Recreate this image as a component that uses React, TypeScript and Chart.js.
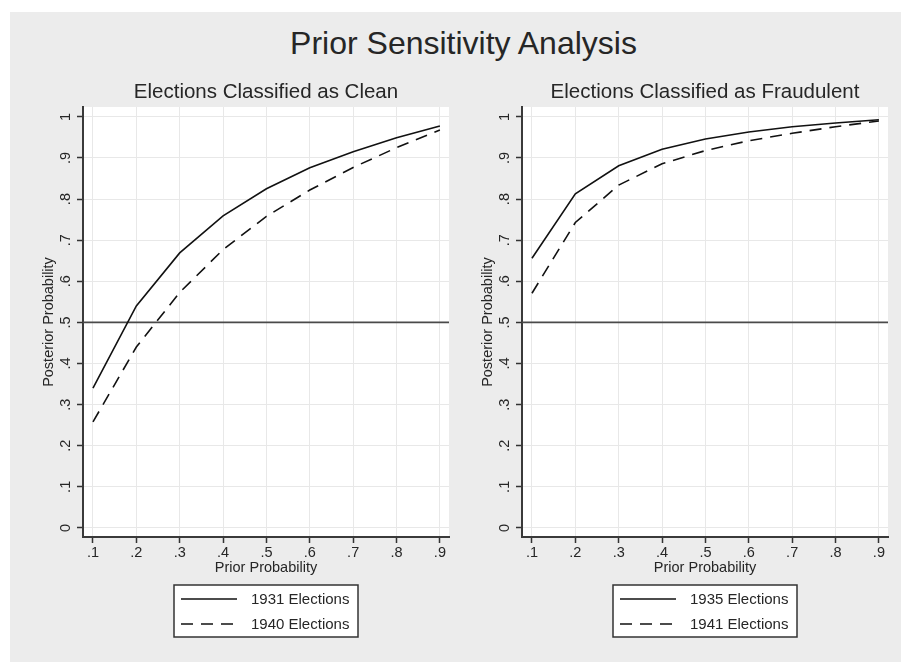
import { useEffect, useRef } from "react";
import { Chart, registerables } from "chart.js";

Chart.register(...registerables);

const FONT = "'Liberation Sans', Arial, Helvetica, sans-serif";
const TEXT = "#262626";

// x: prior probability, y: posterior probability
const priorProbability = [0.1, 0.2, 0.3, 0.4, 0.5, 0.6, 0.7, 0.8, 0.9];
const xTickLabels = [".1", ".2", ".3", ".4", ".5", ".6", ".7", ".8", ".9"];
const yTickValues = [0, 0.1, 0.2, 0.3, 0.4, 0.5, 0.6, 0.7, 0.8, 0.9, 1];
const yTickLabels = ["0", ".1", ".2", ".3", ".4", ".5", ".6", ".7", ".8", ".9", "1"];

const clean1931 = [0.34, 0.54, 0.669, 0.759, 0.825, 0.876, 0.915, 0.949, 0.978];
const clean1940 = [0.258, 0.44, 0.573, 0.677, 0.758, 0.822, 0.877, 0.925, 0.968];
const fraud1935 = [0.656, 0.813, 0.881, 0.921, 0.946, 0.963, 0.976, 0.985, 0.993];
const fraud1941 = [0.571, 0.743, 0.834, 0.886, 0.918, 0.942, 0.96, 0.976, 0.99];

const referenceLine = 0.5;

const pts = (ys: number[]) => ys.map((y, i) => ({ x: priorProbability[i], y }));

// white plot region
const plotBackground = {
  id: "plotBackground",
  beforeDraw(chart: any) {
    const { ctx, chartArea: a } = chart;
    ctx.save();
    ctx.fillStyle = "#ffffff";
    ctx.fillRect(a.left, a.top, a.right - a.left, a.bottom - a.top);
    ctx.restore();
  },
};

// horizontal line at y = .5
const refLine = {
  id: "refLine",
  beforeDatasetsDraw(chart: any) {
    const { ctx, chartArea: a, scales } = chart;
    const y = scales.y.getPixelForValue(referenceLine);
    ctx.save();
    ctx.strokeStyle = "#4a4a4a";
    ctx.lineWidth = 1.6;
    ctx.beginPath();
    ctx.moveTo(a.left, y);
    ctx.lineTo(a.right, y);
    ctx.stroke();
    ctx.restore();
  },
};

// Stata-like boxed legend, one key per row
const boxLegend = {
  id: "boxLegend",
  afterDraw(chart: any) {
    const { ctx, chartArea: a } = chart;
    const w = 184, h = 52;
    const left = Math.round((a.left + a.right) / 2 - w / 2);
    const top = a.bottom + 48;
    ctx.save();
    ctx.fillStyle = "#ffffff";
    ctx.fillRect(left, top, w, h);
    ctx.strokeStyle = "#333333";
    ctx.lineWidth = 1.5;
    ctx.strokeRect(left, top, w, h);
    chart.data.datasets.forEach((ds: any, i: number) => {
      const y = top + 14 + i * 25;
      ctx.beginPath();
      ctx.setLineDash(ds.borderDash || []);
      ctx.strokeStyle = ds.borderColor;
      ctx.lineWidth = ds.borderWidth;
      ctx.moveTo(left + 7, y);
      ctx.lineTo(left + 63, y);
      ctx.stroke();
      ctx.setLineDash([]);
      ctx.fillStyle = TEXT;
      ctx.font = `15px ${FONT}`;
      ctx.textBaseline = "middle";
      ctx.textAlign = "left";
      ctx.fillText(ds.label, left + 77, y + 1);
    });
    ctx.restore();
  },
};

function Panel({ title, series, left, width, padRight }: {
  title: string;
  series: { label: string; values: number[]; dashed?: boolean }[];
  left: number;
  width: number;
  padRight: number;
}) {
  const canvasRef = useRef<HTMLCanvasElement>(null);
  const chartRef = useRef<Chart | null>(null);

  useEffect(() => {
    if (!canvasRef.current) return;
    chartRef.current?.destroy();
    chartRef.current = new Chart(canvasRef.current, {
      type: "line",
      data: {
        datasets: series.map(s => ({
          label: s.label,
          data: pts(s.values),
          borderColor: "#111111",
          borderWidth: 1.6,
          borderDash: s.dashed ? [12, 8] : [],
          pointRadius: 0,
          tension: 0,
          fill: false,
        })),
      },
      options: {
        responsive: true,
        maintainAspectRatio: false,
        animation: false,
        layout: { padding: { left: 0, right: padRight, top: 0, bottom: 80 } },
        plugins: {
          legend: { display: false },
          tooltip: { enabled: false },
          title: {
            display: true,
            fullSize: false,
            text: title,
            color: TEXT,
            font: { family: FONT, size: 20.5, weight: "normal" },
            padding: { top: 17.7, bottom: 2.7 },
          },
        },
        scales: {
          x: {
            type: "linear",
            min: 0.077,
            max: 0.921,
            afterBuildTicks: (s: any) => { s.ticks = priorProbability.map(v => ({ value: v })); },
            afterFit: (s: any) => { s.height = 45; },
            ticks: {
              callback: (_v: any, i: number) => xTickLabels[i],
              color: TEXT,
              font: { family: FONT, size: 14.5 },
              padding: 1,
              maxRotation: 0,
              autoSkip: false,
            },
            grid: { color: "#e8e8e8", lineWidth: 1, tickColor: "#333333", tickLength: 6, tickWidth: 1.5 },
            border: { color: "#3a3a3a", width: 2 },
            title: {
              display: true,
              text: "Prior Probability",
              color: TEXT,
              font: { family: FONT, size: 14.5 },
              padding: { top: 0, bottom: 5 },
            },
          },
          y: {
            type: "linear",
            min: -0.022,
            max: 1.024,
            afterBuildTicks: (s: any) => { s.ticks = yTickValues.map(v => ({ value: v })); },
            afterFit: (s: any) => { s.width = 73; },
            ticks: {
              callback: (_v: any, i: number) => yTickLabels[i],
              color: TEXT,
              font: { family: FONT, size: 14.5 },
              minRotation: 90,
              maxRotation: 90,
              crossAlign: "center",
              padding: 5,
              autoSkip: false,
            },
            grid: { color: "#e8e8e8", lineWidth: 1, tickColor: "#333333", tickLength: 6, tickWidth: 1.5 },
            border: { color: "#3a3a3a", width: 2 },
            title: {
              display: true,
              text: "Posterior Probability",
              color: TEXT,
              font: { family: FONT, size: 14.5 },
              padding: { top: 30, bottom: 0 },
            },
          },
        },
      },
      plugins: [plotBackground, refLine, boxLegend],
    } as any);
    return () => { chartRef.current?.destroy(); chartRef.current = null; };
  }, []);

  return (
    <div style={{ position: "absolute", left, top: 62, width, height: 600 }}>
      <canvas ref={canvasRef} />
    </div>
  );
}

export default function App() {
  return (
    <div style={{ position: "fixed", left: 0, top: 0, width: 901, height: 663, background: "#ffffff", overflow: "hidden", fontFamily: FONT }}>
      <div style={{ position: "absolute", left: 10, top: 12, width: 891, height: 650, background: "#ececec" }} />
      <div style={{
        position: "absolute", left: 463.5, top: 27, transform: "translateX(-50%)",
        fontSize: 32, lineHeight: "32px", color: TEXT, whiteSpace: "nowrap",
      }}>
        Prior Sensitivity Analysis
      </div>
      <Panel
        title="Elections Classified as Clean"
        left={10}
        width={442}
        padRight={3}
        series={[
          { label: "1931 Elections", values: clean1931 },
          { label: "1940 Elections", values: clean1940, dashed: true },
        ]}
      />
      <Panel
        title="Elections Classified as Fraudulent"
        left={449}
        width={452}
        padRight={13}
        series={[
          { label: "1935 Elections", values: fraud1935 },
          { label: "1941 Elections", values: fraud1941, dashed: true },
        ]}
      />
    </div>
  );
}
